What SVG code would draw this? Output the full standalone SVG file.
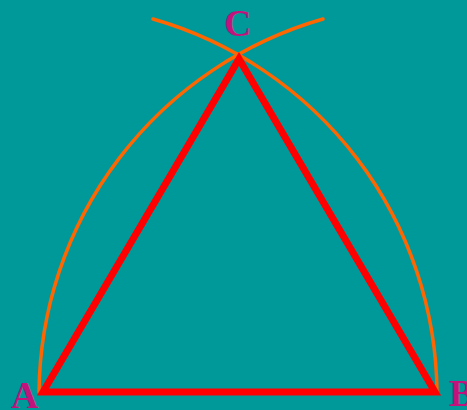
<svg xmlns="http://www.w3.org/2000/svg" width="467" height="410" viewBox="0 0 467 410">
<style>
.arc{fill:none;stroke:#ff6600;stroke-width:3.5;stroke-linecap:round}
.tri{fill:none;stroke:#ff0000;stroke-width:7;stroke-linejoin:miter}
.lbl{font-family:"Liberation Serif",serif;font-weight:bold;font-size:38px;fill:#c0147c}
</style>
<rect width="467" height="410" fill="#009999"/>
<g id="connectors">
<path class="arc" d="M39,392 A392,392 0 0 1 323,19"/>
<path class="arc" d="M437,392 A392,392 0 0 0 153,19"/>
</g>
<g id="triangle"><path class="tri" d="M43,392 L435,392 L239,59 Z"/></g>
<g id="A"><text class="lbl" x="11" y="408">A</text></g>
<g id="B"><text class="lbl" x="449" y="406">B</text></g>
<g id="C"><text class="lbl" x="224" y="36">C</text></g>
</svg>
